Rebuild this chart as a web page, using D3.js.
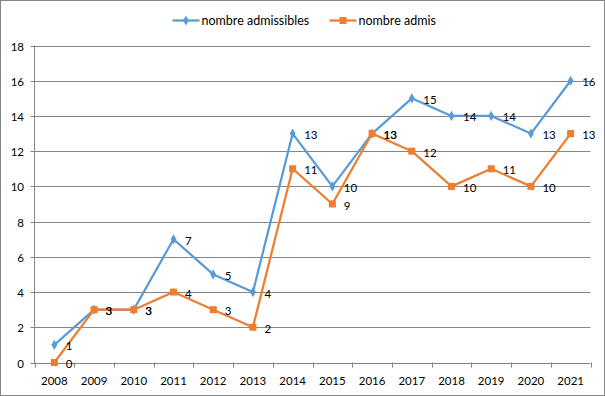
<!DOCTYPE html>
<html><head><meta charset="utf-8">
<script src="https://cdn.jsdelivr.net/npm/d3@7"></script>
<style>
html,body{margin:0;padding:0;background:#fff;}
svg{display:block;font-family:Lato, "Liberation Sans", sans-serif;}
</style></head>
<body>
<svg id="c" width="605" height="396"></svg>
<script>
const years = ["2008","2009","2010","2011","2012","2013","2014","2015","2016","2017","2018","2019","2020","2021"];
const admissibles = [1,3,3,7,5,4,13,10,13,15,14,14,13,16];
const admis = [0,3,3,4,3,2,11,9,13,12,10,11,10,13];
const yTicks = [0,2,4,6,8,10,12,14,16,18];
const seriesNames = ["nombre admissibles","nombre admis"];
const colors = ["#5B9BD5","#ED7D31"];

(function(){
const svg = d3.select("#c");
svg.append("rect").attr("x",0.5).attr("y",0.5).attr("width",604).attr("height",395)
  .attr("fill","#fff").attr("stroke","#868686");

const pl = 34.5, pr = 590.5, pt = 45.5, pb = 362.5;
const x = d3.scaleBand().domain(years).range([pl, pr]);
const y = d3.scaleLinear().domain([0,18]).range([pb, pt]);
const grid = "#868686";

svg.append("g").selectAll("line").data(yTicks).join("line")
  .attr("x1", pl-4).attr("x2", pr)
  .attr("y1", d=>Math.round(y(d))+0.5).attr("y2", d=>Math.round(y(d))+0.5)
  .attr("stroke", grid).attr("stroke-width",1);
svg.append("line").attr("x1",pl).attr("x2",pl).attr("y1",y(18)).attr("y2",y(0)+0.5)
  .attr("stroke",grid);
svg.append("g").selectAll("text").data(yTicks).join("text")
  .attr("x", 24).attr("y", d=>Math.round(y(d))+0.5).attr("dy","0.35em")
  .attr("text-anchor","end").attr("font-size","11.5px").attr("fill","#000").text(d=>d);
const xb = years.map(d=>x(d)).concat([x(years[years.length-1])+x.bandwidth()]);
svg.append("g").selectAll("line").data(xb).join("line")
  .attr("x1", d=>Math.round(d)+0.5).attr("x2", d=>Math.round(d)+0.5)
  .attr("y1", y(0)).attr("y2", y(0)+5).attr("stroke",grid);
svg.append("g").selectAll("text").data(years).join("text")
  .attr("x", d=>x(d)+x.bandwidth()/2).attr("y", 381).attr("dy","0.35em")
  .attr("text-anchor","middle").attr("font-size","11.5px").attr("fill","#000").text(d=>d);

const cx = d=>x(d)+x.bandwidth()/2;
const line = d3.line().x((v,i)=>cx(years[i])).y(v=>y(v));
const diamond = d3.symbol().type(d3.symbolDiamond).size(30);

function drawSeries(vals, color, marker){
  const g = svg.append("g");
  g.append("path").attr("d", line(vals)).attr("fill","none").attr("stroke",color)
    .attr("stroke-width",2.25).attr("stroke-linejoin","round");
  if(marker==="diamond"){
    g.selectAll("path.m").data(vals).join("path").attr("class","m")
      .attr("transform",(v,i)=>`translate(${cx(years[i])},${y(v)})`)
      .attr("d", diamond()).attr("fill",color);
  } else {
    g.selectAll("rect.m").data(vals).join("rect").attr("class","m")
      .attr("x",(v,i)=>cx(years[i])-3.5).attr("y",v=>y(v)-3.5)
      .attr("width",7).attr("height",7).attr("fill",color);
  }
}
drawSeries(admissibles, colors[0], "diamond");
drawSeries(admis, colors[1], "square");

function drawLabels(vals){
  svg.append("g").selectAll("text").data(vals).join("text")
    .attr("x",(v,i)=>cx(years[i])+11.5).attr("y",v=>y(v)+1.5).attr("dy","0.35em")
    .attr("font-size","11.5px").attr("fill","#000").text(v=>v);
}
drawLabels(admissibles);
drawLabels(admis);

const lg = svg.append("g");
const legendItems = [{name:seriesNames[0],color:colors[0],x0:172.5,m:"diamond"},{name:seriesNames[1],color:colors[1],x0:329.5,m:"square"}];
legendItems.forEach(it=>{
  lg.append("line").attr("x1",it.x0).attr("x2",it.x0+27).attr("y1",20.5).attr("y2",20.5)
    .attr("stroke",it.color).attr("stroke-width",2.25);
  if(it.m==="diamond"){
    lg.append("path").attr("transform",`translate(${it.x0+13.5},20.5)`).attr("d",diamond()).attr("fill",it.color);
  } else {
    lg.append("rect").attr("x",it.x0+10).attr("y",17).attr("width",7).attr("height",7).attr("fill",it.color);
  }
  lg.append("text").attr("x",it.x0+29).attr("y",20.5).attr("dy","0.35em")
    .attr("font-size","12.5px").attr("fill","#000").text(it.name);
});
})();
</script>
</body></html>
